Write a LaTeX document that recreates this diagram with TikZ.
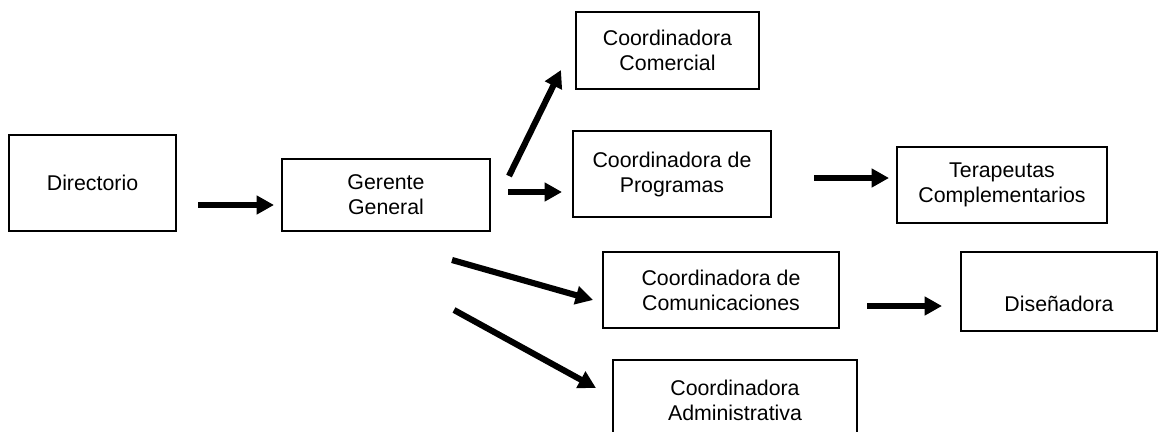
\documentclass[tikz,border=0pt]{standalone}
\usepackage{fontspec}
\setmainfont{Liberation Sans}
\usetikzlibrary{arrows.meta}
\begin{document}
\begin{tikzpicture}[x=0.75pt,y=-0.75pt,
  box/.style={draw=black,line width=1.1pt,inner sep=0pt,align=center,
    font=\fontsize{16}{18.75}\selectfont},
  arr/.style={line width=4.6pt,-{Triangle[length=13pt,width=13.5pt]}}]
\useasboundingbox (0,0) rectangle (1161,432);
\clip (0,0) rectangle (1161,432);
\node[box,minimum width=167*0.75pt,minimum height=96*0.75pt] (dir) at (92.5,183) {Directorio};
\node[box,minimum width=208*0.75pt,minimum height=72*0.75pt] (ger) at (386,195) {Gerente\\General};
\node[box,minimum width=183*0.75pt,minimum height=77*0.75pt] (com) at (667.5,50.5) {Coordinadora\\Comercial};
\node[box,minimum width=198*0.75pt,minimum height=86*0.75pt] (pro) at (672,174) {Coordinadora de\\Programas};
\node[box,minimum width=210*0.75pt,minimum height=76*0.75pt] (ter) at (1002,185) {Terapeutas\\Complementarios};
\node[box,minimum width=236*0.75pt,minimum height=76*0.75pt] (cmu) at (721,290) {Coordinadora de\\Comunicaciones};
\node[box,minimum width=196*0.75pt,minimum height=79*0.75pt] (dis) at (1059,291.5) {\raisebox{0pt}[\dimexpr\height+18pt\relax]{Diseñadora}};
\node[box,minimum width=244*0.75pt,minimum height=80*0.75pt] (adm) at (735,400) {Coordinadora\\Administrativa};
\coordinate (a1s) at (198,205); \coordinate (a1e) at (274,205);
\coordinate (a2s) at (509,176); \coordinate (a2e) at (561,70);
\coordinate (a3s) at (508,192); \coordinate (a3e) at (562,192);
\coordinate (a4s) at (814,178); \coordinate (a4e) at (889,178);
\coordinate (a5s) at (452,260); \coordinate (a5e) at (593,300);
\coordinate (a6s) at (454,310); \coordinate (a6e) at (596,388);
\coordinate (a7s) at (867,306); \coordinate (a7e) at (942,306);
\draw[arr] (a1s) -- (a1e);
\draw[arr] (a2s) -- (a2e);
\draw[arr] (a3s) -- (a3e);
\draw[arr] (a4s) -- (a4e);
\draw[arr] (a5s) -- (a5e);
\draw[arr] (a6s) -- (a6e);
\draw[arr] (a7s) -- (a7e);
\end{tikzpicture}
\end{document}
